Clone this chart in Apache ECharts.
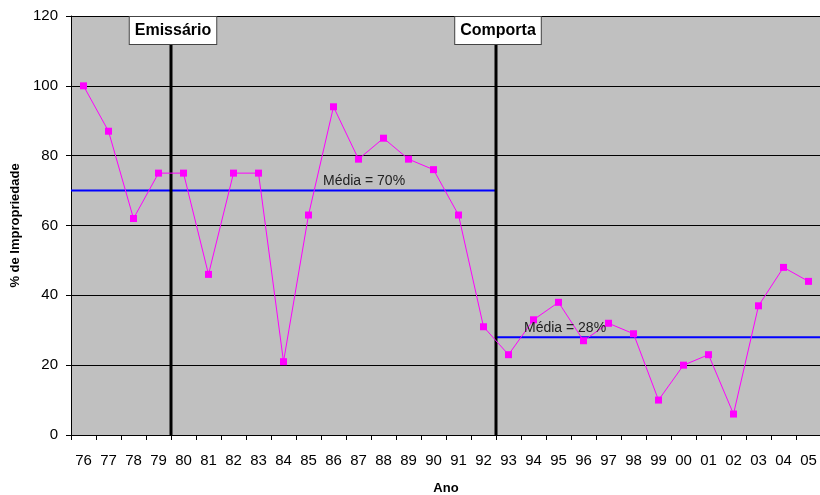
<!DOCTYPE html>
<html>
<head>
<meta charset="utf-8">
<script src="https://cdn.jsdelivr.net/npm/echarts@6/dist/echarts.min.js"></script>
<style>
  html, body { margin: 0; padding: 0; background: #fff; }
  #chart { width: 820px; height: 495px; }
</style>
</head>
<body>
<div id="chart"></div>
<script>
// Years (two-digit) on the horizontal axis
const anos = ['76','77','78','79','80','81','82','83','84','85','86','87','88','89','90',
              '91','92','93','94','95','96','97','98','99','00','01','02','03','04','05'];
// Percentage of impropriety per year
const impropriedade = [100, 87, 62, 75, 75, 46, 75, 75, 21, 63, 94, 79, 85, 79, 76,
                       63, 31, 23, 33, 38, 27, 32, 29, 10, 20, 23, 6, 37, 48, 44];
// Y axis ticks
const yTicks = [0, 20, 40, 60, 80, 100, 120];
// Events: name and category boundary position (before the named year)
const eventos = [
  { nome: 'Emissário', pos: 4 },
  { nome: 'Comporta', pos: 17 }
];
// Period means: start/end boundary positions and value
const medias = [
  { de: 0, ate: 17, valor: 70, texto: 'Média = 70%', textoPos: 10.08 },
  { de: 17, ate: 30, valor: 28, texto: 'Média = 28%', textoPos: 18.12 }
];

const FONT = 'Liberation Sans, Arial, Helvetica, sans-serif';
const chart = echarts.init(document.getElementById('chart'), null, { renderer: 'canvas' });

const series = [{
  type: 'line',
  xAxisIndex: 0,
  yAxisIndex: 0,
  data: impropriedade,
  symbol: 'rect',
  symbolSize: 7,
  itemStyle: { color: '#FF00FF' },
  lineStyle: { color: '#FF00FF', width: 1 },
  animation: false,
  z: 5
}];

medias.forEach(m => {
  series.push({
    type: 'line',
    xAxisIndex: 1,
    yAxisIndex: 0,
    data: [[m.de, m.valor], [m.ate, m.valor]],
    symbol: 'none',
    lineStyle: { color: '#0000FF', width: 2 },
    animation: false,
    z: 3
  });
});

eventos.forEach(e => {
  series.push({
    type: 'line',
    xAxisIndex: 1,
    yAxisIndex: 0,
    data: [[e.pos, 0], [e.pos, 120]],
    symbol: 'none',
    lineStyle: { color: '#000', width: 3 },
    animation: false,
    z: 4
  });
});

chart.setOption({
  animation: false,
  grid: {
    left: 71, top: 16, width: 750, height: 419,
    outerBoundsMode: 'none',
    containLabel: false,
    show: true, backgroundColor: '#C0C0C0', borderWidth: 0
  },
  xAxis: [{
    type: 'category',
    data: anos,
    boundaryGap: true,
    name: 'Ano',
    nameLocation: 'middle',
    nameGap: 47,
    nameTextStyle: { fontFamily: FONT, fontWeight: 'bold', fontSize: 13, color: '#000' },
    axisLine: { lineStyle: { color: '#000', width: 1 } },
    axisTick: { show: true, interval: 0, length: 5, lineStyle: { color: '#000' } },
    axisLabel: { interval: 0, fontFamily: FONT, fontSize: 15, color: '#000', margin: 18 },
    splitLine: { show: false }
  }, {
    type: 'value',
    min: 0, max: 30,
    show: false
  }],
  yAxis: {
    type: 'value',
    min: yTicks[0],
    max: yTicks[yTicks.length - 1],
    interval: 20,
    name: '% de Impropriedade',
    nameLocation: 'middle',
    nameGap: 46,
    nameTextStyle: { fontFamily: FONT, fontWeight: 'bold', fontSize: 13, color: '#000' },
    axisLine: { show: true, lineStyle: { color: '#000', width: 1 } },
    axisTick: { show: true, length: 5, lineStyle: { color: '#000' } },
    axisLabel: { fontFamily: FONT, fontSize: 15, color: '#000', margin: 13 },
    splitLine: { show: true, lineStyle: { color: '#000', width: 1 } }
  },
  series: series
});

// Text overlays positioned through the axes
const px = (x, y) => chart.convertToPixel({ xAxisIndex: 1, yAxisIndex: 0 }, [x, y]);
const graphics = [];

// Mean labels just above their lines
medias.forEach(m => {
  const p = px(m.textoPos, m.valor);
  graphics.push({
    type: 'text',
    x: p[0],
    y: p[1] - 2,
    z: 10,
    style: {
      text: m.texto,
      font: '14px ' + FONT,
      fill: '#222',
      textAlign: 'left',
      textVerticalAlign: 'bottom'
    }
  });
});

// Event name boxes at the top of each event line
eventos.forEach(e => {
  const p = px(e.pos, 120);
  graphics.push({
    type: 'text',
    x: p[0] + 2,
    y: p[1] + 1,
    z: 10,
    style: {
      text: e.nome,
      font: 'bold 16px ' + FONT,
      fill: '#000',
      textAlign: 'center',
      textVerticalAlign: 'top',
      backgroundColor: '#fff',
      borderColor: '#444',
      borderWidth: 1,
      padding: [6, 5, 5, 5]
    }
  });
});
chart.setOption({ graphic: graphics });
</script>
</body>
</html>
